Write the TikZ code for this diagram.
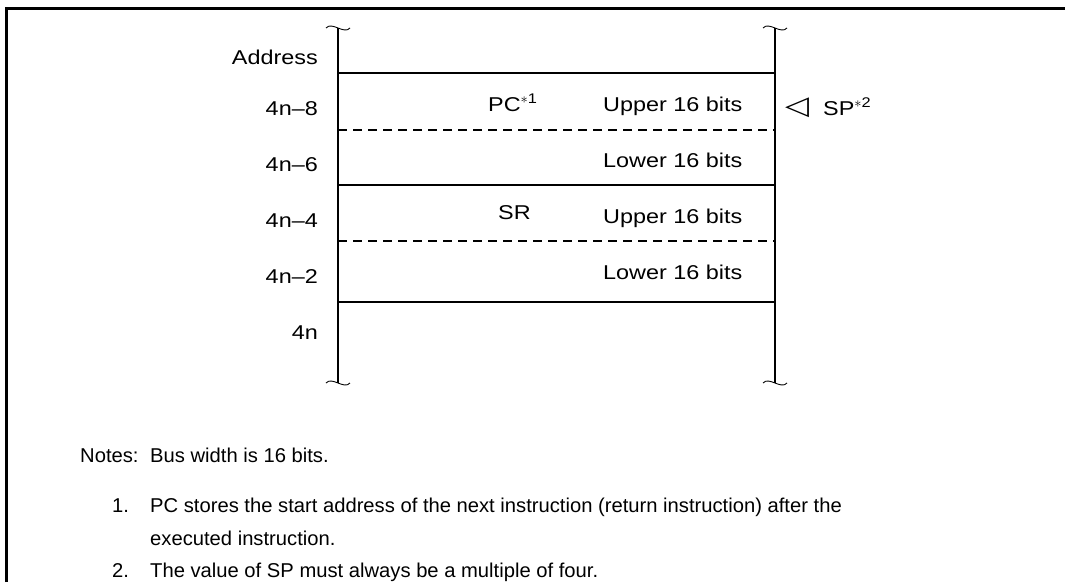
\documentclass[tikz,border=0pt]{standalone}
\usepackage{fontspec}
\setmainfont{Liberation Sans}[FakeStretch=1.17]
\newfontfamily\notefont{Liberation Sans}[FakeStretch=1.01]
\newfontfamily\symfont{DejaVu Sans}[FakeStretch=1.2]

\begin{document}
\begin{tikzpicture}[x=1pt,y=-1pt,font=\fontsize{20}{24}\selectfont,
    lbl/.style={anchor=base east,inner sep=0pt},
    cell/.style={anchor=base west,inner sep=0pt},
    note/.style={cell,font=\notefont\fontsize{20}{24}\selectfont},
    rowline/.style={line width=1.1pt},
    wave/.style={line width=0.9pt}]
    \useasboundingbox (0,0) rectangle (1065,582);
    % frame
    \draw[line width=2.6pt] (6.3,582) -- (6.3,8.7) -- (1065,8.7);
    % stack columns
    \coordinate (lt) at (338,28);
    \coordinate (lb) at (338,383);
    \coordinate (rt) at (775,28);
    \coordinate (rb) at (775,383);
    \draw[rowline] (lt) -- (lb);
    \draw[rowline] (rt) -- (rb);
    \foreach \c in {lt,lb,rt,rb}
        \draw[wave] (\c) ++(-12,0) .. controls +(6,-7) and +(-6,7) .. ++(24,0);
    % rows
    \foreach \y in {73,185,302}
        \draw[rowline] (lt |- 0,\y) -- (rt |- 0,\y);
    \foreach \y in {130,241}
        \draw[rowline,dash pattern=on 9pt off 6pt] (lt |- 0,\y) -- (rt |- 0,\y);
    % addresses
    \node[lbl] (addr) at (318,64) {Address};
    \node[lbl] (a8) at (318,115) {4n–8};
    \node[lbl] (a6) at (318,171) {4n–6};
    \node[lbl] (a4) at (318,227) {4n–4};
    \node[lbl] (a2) at (318,283) {4n–2};
    \node[lbl] (a0) at (318,339) {4n};
    % contents
    \node[cell] (pc) at (488,111) {PC\textsuperscript{$\ast$1}};
    \node[cell] (pcu) at (603,111) {Upper 16 bits};
    \node[cell] (pcl) at (603,167) {Lower 16 bits};
    \node[cell] (sr) at (498,219) {SR};
    \node[cell] (sru) at (603,223) {Upper 16 bits};
    \node[cell] (srl) at (603,279) {Lower 16 bits};
    \node[cell] (tri) at (785,114) {\symfont\fontsize{26}{30}\selectfont ◁};
    \node[cell] (sp) at (823,115) {SP\textsuperscript{$\ast$2}};
    % notes
    \node[note] (notes) at (80,462) {Notes:};
    \node[note] (bus) at (150,462) {Bus width is 16 bits.};
    \node[note] (n1) at (112,512) {1.};
    \node[note] (n1a) at (150,512) {PC stores the start address of the next instruction (return instruction) after the};
    \node[note] (n1b) at (150,545) {executed instruction.};
    \node[note] (n2) at (112,577) {2.};
    \node[note] (n2a) at (150,577) {The value of SP must always be a multiple of four.};
\end{tikzpicture}
\end{document}
